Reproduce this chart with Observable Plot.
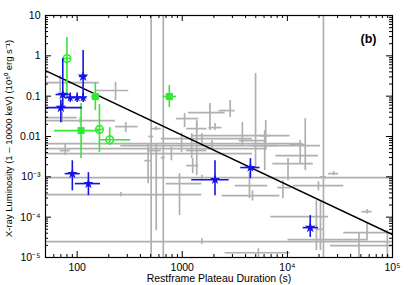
<!DOCTYPE html>
<html><head><meta charset="utf-8">
<script src="https://cdn.jsdelivr.net/npm/d3@7"></script>
<script src="https://cdn.jsdelivr.net/npm/@observablehq/plot@0.6"></script>
<style>body{margin:0;background:#fff}</style>
</head><body><div id="chart"></div>
<script>
// tick labels
const xMajor = [100, 1000, 1e4, 1e5];
const xMajorLabels = ["100", "1000", "10⁴", "10⁵"];
const yMajor = [1e-5, 1e-4, 1e-3, 0.01, 0.1, 1, 10];
const yMajorLabels = ["10⁻⁵", "10⁻⁴", "10⁻³", "0.01", "0.1", "1", "10"];
const xTitle = "Restframe Plateau Duration (s)";
const yTitle = "X-ray Luminosity (1 – 10000 keV) (10⁵⁰ erg s⁻¹)";
const panelTag = "(b)";

// gray sample: [duration, durLo, durHi, lum, lumLo, lumHi]
const grayPoints = [
  [69, 51, 163, 0.217, 0.123, 0.324],
  [232, 149, 310, 0.138, 0.078, 0.217],
  [72, 50, 100, 0.0294, 0.0221, 0.0392],
  [107, 50, 232, 0.0248, 0.0209, 0.0294],
  [290, 232, 379, 0.0176, 0.0125, 0.0221],
  [565, 506, 631, 0.0157, 0.014, 0.0176],
  [985, 50, 14140, 0.00667, 0.004, 0.012],
  [1230, 50, 6086, 0.00501, 0.00283, 0.0118],
  [788, 50, 4657, 0.00377, 0.0025, 0.0055],
  [1918, 260, 20630, 0.00595, 0.0045, 0.008],
  [1535, 631, 4657, 0.00887, 0.0067, 0.0118],
  [3733, 1230, 10600, 0.0105, 0.00595, 0.0221],
  [1052, 881, 1436, 0.0278, 0.0166, 0.037],
  [1834, 1150, 2559, 0.0392, 0.014, 0.0655],
  [2048, 1794, 2393, 0.0166, 0.014, 0.0209],
  [2857, 2239, 3192, 0.0439, 0.0294, 0.0778],
  [1373, 1100, 1715, 0.0157, 0.0125, 0.0209],
  [4980, 3490, 6086, 0.00791, 0.00169, 0.364],
  [6086, 4657, 8112, 0.00595, 0.00143, 0.014],
  [13240, 10600, 15110, 0.0063, 0.00213, 0.00791],
  [14790, 7768, 19740, 0.00336, 0.00143, 0.0278],
  [10140, 7265, 17660, 0.00213, 0.000805, 0.00283],
  [27540, 24640, 30760, 0.0012, 0.00107, 0.00135],
  [1535, 50, 100000, 0.000955, 0.0008, 0.0011],
  [19740, 11330, 34380, 0.000605, 0.00045, 0.00075],
  [9070, 8112, 10830, 0.00054, 0.000288, 0.000805],
  [4357, 3192, 6503, 0.000605, 0.000288, 0.00127],
  [4657, 2393, 8490, 0.000341, 0.00025, 0.00045],
  [18880, 6951, 24640, 0.000103, 0.0000148, 0.000256],
  [57260, 51260, 63980, 0.000137, 0.00012, 0.000155],
  [57260, 34380, 89300, 0.0000412, 0.0000261, 0.0000731],
  [47950, 10140, 57260, 0.0000277, 0.00001, 0.0000412],
  [89300, 25770, 99000, 0.0000196, 0.00001, 0.0000462],
  [1535, 50, 99800, 0.0000247, 0.000021, 0.000029],
  [5300, 2559, 10600, 0.0000131, 0.00001, 0.0000165],
  [506, 480, 535, 0.01, 0.00001, 10],
  [660, 630, 690, 0.003, 0.00001, 10],
  [22030, 20600, 23500, 0.001, 0.00001, 10],
  [260, 50, 1535, 0.000362, 0.00032, 0.00041],
  [942, 706, 1535, 0.000678, 0.000109, 0.0012],
  [1257, 1100, 1436, 0.0019, 0.0012, 0.00283],
  [565, 473, 631, 0.00447, 0.0000462, 0.0067],
  [473, 440, 506, 0.00252, 0.000678, 0.00667],
  [77, 69, 86, 0.00447, 0.00336, 0.0067],
  [1373, 1100, 1715, 0.0045, 0.00107, 0.0248],
  [6222, 5500, 7000, 0.0105, 0.0045, 0.0248],
  [20630, 19000, 22000, 0.00005, 0.0000148, 0.000256]
];

// blue stars: [duration, durLo, durHi, lum, lumLo, lumHi, symbolRadius]
const bluePoints = [
  [70, 50, 112, 0.052, 0.022, 0.08, 7.5],
  [73, 63, 86, 0.11, 0.05, 0.857, 7.5],
  [86, 78, 95, 0.092, 0.07, 0.12, 5],
  [100, 92, 109, 0.092, 0.07, 0.12, 5],
  [114, 105, 124, 0.092, 0.07, 0.12, 5],
  [114, 105, 124, 0.31, 0.078, 1.35, 7.5],
  [90, 77, 107, 0.0012, 0.00045, 0.0025, 6.5],
  [128, 96, 167, 0.00068, 0.00034, 0.00127, 6.5],
  [2048, 1230, 2795, 0.00085, 0.00034, 0.0025, 6.5],
  [4450, 3600, 5500, 0.0017, 0.0009, 0.00283, 6.5],
  [16500, 14140, 19740, 0.000055, 0.0000315, 0.000109, 7.5]
];

// green open circles and filled squares: [duration, durLo, durHi, lum, lumLo, lumHi]
const greenCircles = [
  [80, 74, 87, 0.86, 0.1, 2.84],
  [163, 150, 177, 0.015, 0.004, 0.062],
  [204, 163, 324, 0.0083, 0.006, 0.0166]
];
const greenSquares = [
  [149, 137, 162, 0.098, 0.044, 0.205],
  [109, 61, 167, 0.014, 0.00283, 0.0655],
  [753, 660, 881, 0.098, 0.052, 0.183]
];

// fitted relation end points
const fitX = [50, 100000];
const fitL = [0.43, 0.000037];

const W = 409, H = 285, mL = 45, mR = 17, mT = 15, mB = 28;
const pw = W - mL - mR, ph = H - mT - mB;
const xDomain = [50, 1e5], yDomain = [1e-5, 10];
const xAll = d3.scaleLog().domain(xDomain).ticks();
const yAll = d3.scaleLog().domain(yDomain).ticks();
const isMajor = v => Math.abs(Math.log10(v) - Math.round(Math.log10(v))) < 1e-6;
const xMinor = xAll.filter(v => !isMajor(v));
const yMinor = yAll.filter(v => !isMajor(v));
const xMaj = xAll.filter(isMajor), yMaj = yAll.filter(isMajor);

const font = "Liberation Sans, Arial, Helvetica, sans-serif";
const grayC = "#b0b0b0", blueC = "#1414e6", greenC = "#33e833";

function errBars(data, color, sw) {
  return [
    Plot.ruleY(data, {y: d => d[3], x1: d => d[1], x2: d => d[2], stroke: color, strokeWidth: sw, clip: true}),
    Plot.ruleX(data, {x: d => d[0], y1: d => d[4], y2: d => d[5], stroke: color, strokeWidth: sw, clip: true})
  ];
}
function ticksX(vals, len) {
  return [
    Plot.ruleX(vals, {x: d => d, insetTop: ph - len, stroke: "black", strokeWidth: 1}),
    Plot.ruleX(vals, {x: d => d, insetBottom: ph - len, stroke: "black", strokeWidth: 1})
  ];
}
function ticksY(vals, len) {
  return [
    Plot.ruleY(vals, {y: d => d, insetRight: pw - len, stroke: "black", strokeWidth: 1}),
    Plot.ruleY(vals, {y: d => d, insetLeft: pw - len, stroke: "black", strokeWidth: 1})
  ];
}

const chart = Plot.plot({
  width: W, height: H,
  marginLeft: mL, marginRight: mR, marginTop: mT, marginBottom: mB,
  style: {fontFamily: font, background: "#fff", overflow: "visible"},
  x: {type: "log", domain: xDomain, axis: null},
  y: {type: "log", domain: yDomain, axis: null},
  marks: [
    ...errBars(grayPoints, grayC, 1.7),
    Plot.line(fitX.map((x, i) => [x, fitL[i]]), {x: d => d[0], y: d => d[1], stroke: "black", strokeWidth: 1.6, clip: true}),
    ...errBars(greenSquares, greenC, 1.6),
    ...errBars(greenCircles, greenC, 1.6),
    Plot.dot(greenSquares, {x: d => d[0], y: d => d[3], symbol: "square", r: 4, fill: greenC}),
    Plot.dot(greenCircles, {x: d => d[0], y: d => d[3], r: 3.8, stroke: greenC, strokeWidth: 1.6, fill: "white", fillOpacity: 0}),
    ...errBars(bluePoints, blueC, 1.6),
    Plot.dot(bluePoints, {x: d => d[0], y: d => d[3], symbol: "star", r: d => d[6], fill: blueC}),
    Plot.frame({stroke: "black", strokeWidth: 1.2}),
    ...ticksX(xMinor, 3), ...ticksX(xMaj, 6),
    ...ticksY(yMinor, 3), ...ticksY(yMaj, 6),
    Plot.axisX(xMajor, {anchor: "bottom", tickSize: 0, tickPadding: 6, fontSize: 10.5, label: null,
      tickFormat: d => xMajorLabels[xMajor.indexOf(d)]}),
    Plot.axisY(yMajor, {anchor: "left", tickSize: 0, tickPadding: 5, fontSize: 10.5, label: null,
      tickFormat: d => yMajorLabels[yMajor.indexOf(d)]}),
    Plot.text([xTitle], {frameAnchor: "bottom", dy: 21, textAnchor: "middle", lineAnchor: "middle", fontSize: 10.5, text: d => d}),
    Plot.text([yTitle], {frameAnchor: "left", dx: -37, dy: 2, rotate: -90, textAnchor: "middle", lineAnchor: "middle", fontSize: 9.5, text: d => d}),
    Plot.text([panelTag], {frameAnchor: "top-right", dx: -16, dy: 19, fontSize: 12.5, fontWeight: "bold", text: d => d})
  ]
});
document.getElementById("chart").appendChild(chart);
</script>
</body></html>
